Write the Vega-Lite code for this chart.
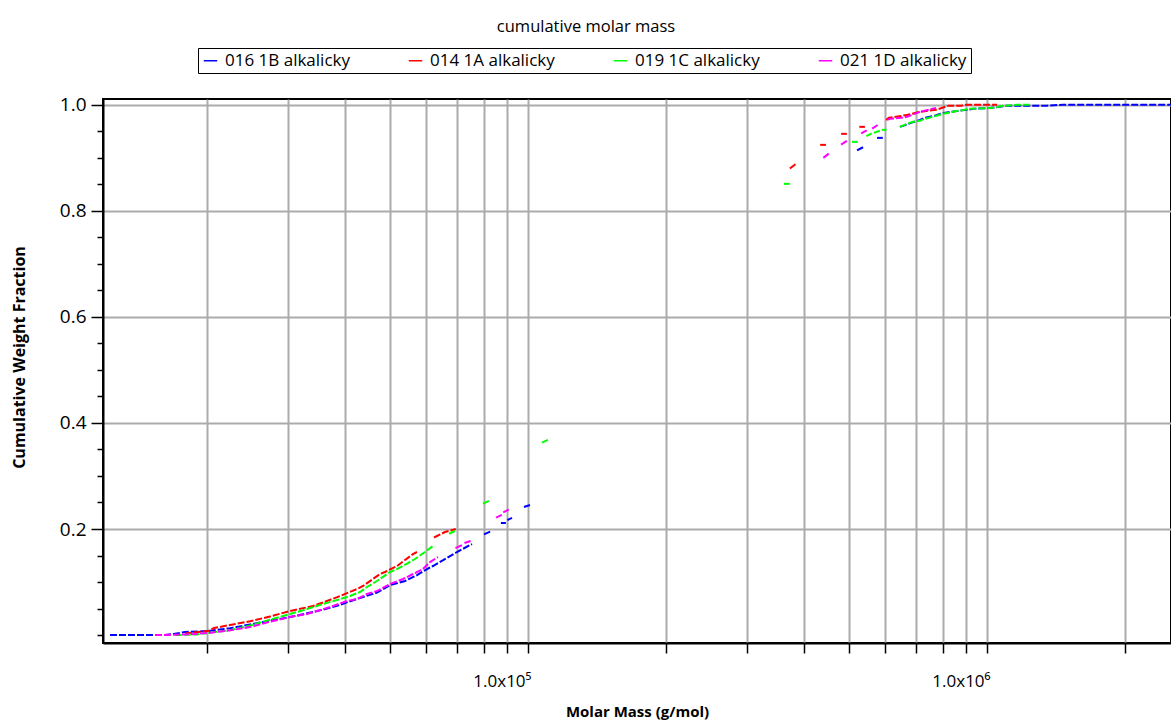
{
"$schema": "https://vega.github.io/schema/vega-lite/v6.json",
"width": 1068, "height": 544,
"autosize": {"type": "none"},
"padding": {"left": 103, "top": 99, "right": 0, "bottom": 84},
"background": "white",
"title": {"text": "cumulative molar mass", "fontSize": 16.5, "fontWeight": "normal", "font": "Open Sans", "color": "black", "anchor": "middle", "dx": -51, "frame": "group", "offset": 12},
"config": {"view": {"stroke": "black", "strokeWidth": 2}, "axis": {"labelColor": "black", "titleColor": "black", "tickColor": "black", "domainColor": "black", "domainWidth": 2, "gridColor": "#ababab", "gridWidth": 2, "gridOpacity": 1}},
"datasets": {
"curves": [
{"s":"016 1B alkalicky","g":"b1","m":12285,"f":0},{"s":"016 1B alkalicky","g":"b1","m":16190,"f":0},{"s":"016 1B alkalicky","g":"b1","m":16900,"f":0.002},{"s":"016 1B alkalicky","g":"b1","m":17890,"f":0.0057},{"s":"016 1B alkalicky","g":"b1","m":20090,"f":0.0075},{"s":"016 1B alkalicky","g":"b1","m":22430,"f":0.013},{"s":"016 1B alkalicky","g":"b1","m":24800,"f":0.02},{"s":"016 1B alkalicky","g":"b1","m":27410,"f":0.027},{"s":"016 1B alkalicky","g":"b1","m":30300,"f":0.034},{"s":"016 1B alkalicky","g":"b1","m":33000,"f":0.041},{"s":"016 1B alkalicky","g":"b1","m":35760,"f":0.048},{"s":"016 1B alkalicky","g":"b1","m":38360,"f":0.055},{"s":"016 1B alkalicky","g":"b1","m":40530,"f":0.0623},{"s":"016 1B alkalicky","g":"b1","m":43050,"f":0.07},{"s":"016 1B alkalicky","g":"b1","m":46880,"f":0.08},{"s":"016 1B alkalicky","g":"b1","m":50040,"f":0.0943},{"s":"016 1B alkalicky","g":"b1","m":53950,"f":0.1019},{"s":"016 1B alkalicky","g":"b1","m":57300,"f":0.113},{"s":"016 1B alkalicky","g":"b1","m":60260,"f":0.1245},{"s":"016 1B alkalicky","g":"b1","m":62090,"f":0.1302},{"s":"016 1B alkalicky","g":"b1","m":66600,"f":0.1453},{"s":"016 1B alkalicky","g":"b1","m":70030,"f":0.1566},{"s":"016 1B alkalicky","g":"b1","m":75510,"f":0.1717},
{"s":"016 1B alkalicky","g":"b2","m":80200,"f":0.19},{"s":"016 1B alkalicky","g":"b2","m":82700,"f":0.195},
{"s":"016 1B alkalicky","g":"b3","m":87300,"f":0.2113},{"s":"016 1B alkalicky","g":"b3","m":89500,"f":0.2113},
{"s":"016 1B alkalicky","g":"b4","m":90200,"f":0.217},{"s":"016 1B alkalicky","g":"b4","m":92300,"f":0.221},
{"s":"016 1B alkalicky","g":"b5","m":98000,"f":0.2415},{"s":"016 1B alkalicky","g":"b5","m":101000,"f":0.2453},
{"s":"016 1B alkalicky","g":"b6","m":521000,"f":0.914},{"s":"016 1B alkalicky","g":"b6","m":537000,"f":0.92},
{"s":"016 1B alkalicky","g":"b7","m":576000,"f":0.9377},{"s":"016 1B alkalicky","g":"b7","m":593000,"f":0.9377},
{"s":"016 1B alkalicky","g":"b8","m":646000,"f":0.9585},{"s":"016 1B alkalicky","g":"b8","m":656200,"f":0.9604},{"s":"016 1B alkalicky","g":"b8","m":683100,"f":0.966},{"s":"016 1B alkalicky","g":"b8","m":714500,"f":0.9717},{"s":"016 1B alkalicky","g":"b8","m":732700,"f":0.9755},{"s":"016 1B alkalicky","g":"b8","m":766500,"f":0.9792},{"s":"016 1B alkalicky","g":"b8","m":789900,"f":0.983},{"s":"016 1B alkalicky","g":"b8","m":834700,"f":0.9868},{"s":"016 1B alkalicky","g":"b8","m":904400,"f":0.9906},{"s":"016 1B alkalicky","g":"b8","m":932200,"f":0.9925},{"s":"016 1B alkalicky","g":"b8","m":1017700,"f":0.9943},{"s":"016 1B alkalicky","g":"b8","m":1105400,"f":0.9981},{"s":"016 1B alkalicky","g":"b8","m":1351300,"f":0.9985},{"s":"016 1B alkalicky","g":"b8","m":1464300,"f":1.0},{"s":"016 1B alkalicky","g":"b8","m":2517000,"f":1.0},
{"s":"014 1A alkalicky","g":"r1","m":17890,"f":0.003},{"s":"014 1A alkalicky","g":"r1","m":20090,"f":0.0075},{"s":"014 1A alkalicky","g":"r1","m":20700,"f":0.0132},{"s":"014 1A alkalicky","g":"r1","m":22430,"f":0.019},{"s":"014 1A alkalicky","g":"r1","m":24800,"f":0.026},{"s":"014 1A alkalicky","g":"r1","m":27410,"f":0.035},{"s":"014 1A alkalicky","g":"r1","m":30300,"f":0.0453},{"s":"014 1A alkalicky","g":"r1","m":34010,"f":0.0547},{"s":"014 1A alkalicky","g":"r1","m":36480,"f":0.0642},{"s":"014 1A alkalicky","g":"r1","m":38940,"f":0.0736},{"s":"014 1A alkalicky","g":"r1","m":42410,"f":0.0868},{"s":"014 1A alkalicky","g":"r1","m":43700,"f":0.0925},{"s":"014 1A alkalicky","g":"r1","m":47600,"f":0.1151},{"s":"014 1A alkalicky","g":"r1","m":48810,"f":0.1189},{"s":"014 1A alkalicky","g":"r1","m":51830,"f":0.1302},{"s":"014 1A alkalicky","g":"r1","m":56170,"f":0.1528},{"s":"014 1A alkalicky","g":"r1","m":57300,"f":0.1566},
{"s":"014 1A alkalicky","g":"r2","m":62400,"f":0.184},{"s":"014 1A alkalicky","g":"r2","m":65940,"f":0.1943},{"s":"014 1A alkalicky","g":"r2","m":69600,"f":0.2},
{"s":"014 1A alkalicky","g":"r5","m":372000,"f":0.88},{"s":"014 1A alkalicky","g":"r5","m":384000,"f":0.889},
{"s":"014 1A alkalicky","g":"r6","m":433000,"f":0.9245},{"s":"014 1A alkalicky","g":"r6","m":446000,"f":0.9245},
{"s":"014 1A alkalicky","g":"r7","m":481000,"f":0.9453},{"s":"014 1A alkalicky","g":"r7","m":495000,"f":0.9453},
{"s":"014 1A alkalicky","g":"r8","m":527000,"f":0.9585},{"s":"014 1A alkalicky","g":"r8","m":542000,"f":0.9585},
{"s":"014 1A alkalicky","g":"r9","m":603000,"f":0.9717},{"s":"014 1A alkalicky","g":"r9","m":611700,"f":0.9755},{"s":"014 1A alkalicky","g":"r9","m":633500,"f":0.9774},{"s":"014 1A alkalicky","g":"r9","m":652900,"f":0.9792},{"s":"014 1A alkalicky","g":"r9","m":669500,"f":0.981},{"s":"014 1A alkalicky","g":"r9","m":686600,"f":0.983},{"s":"014 1A alkalicky","g":"r9","m":714500,"f":0.9868},{"s":"014 1A alkalicky","g":"r9","m":743800,"f":0.9887},{"s":"014 1A alkalicky","g":"r9","m":774300,"f":0.9906},{"s":"014 1A alkalicky","g":"r9","m":822200,"f":0.9981},{"s":"014 1A alkalicky","g":"r9","m":873300,"f":0.9981},{"s":"014 1A alkalicky","g":"r9","m":904400,"f":1.0},{"s":"014 1A alkalicky","g":"r9","m":1017700,"f":1.0},{"s":"014 1A alkalicky","g":"r9","m":1051500,"f":1.0},
{"s":"019 1C alkalicky","g":"g1","m":17000,"f":0},{"s":"019 1C alkalicky","g":"g1","m":19000,"f":0.001},{"s":"019 1C alkalicky","g":"g1","m":20090,"f":0.004},{"s":"019 1C alkalicky","g":"g1","m":22430,"f":0.009},{"s":"019 1C alkalicky","g":"g1","m":24800,"f":0.018},{"s":"019 1C alkalicky","g":"g1","m":27410,"f":0.029},{"s":"019 1C alkalicky","g":"g1","m":30300,"f":0.0396},{"s":"019 1C alkalicky","g":"g1","m":33000,"f":0.049},{"s":"019 1C alkalicky","g":"g1","m":35760,"f":0.0585},{"s":"019 1C alkalicky","g":"g1","m":38360,"f":0.066},{"s":"019 1C alkalicky","g":"g1","m":40940,"f":0.0736},{"s":"019 1C alkalicky","g":"g1","m":43050,"f":0.0811},{"s":"019 1C alkalicky","g":"g1","m":44580,"f":0.0906},{"s":"019 1C alkalicky","g":"g1","m":46880,"f":0.1019},{"s":"019 1C alkalicky","g":"g1","m":50040,"f":0.1189},{"s":"019 1C alkalicky","g":"g1","m":51830,"f":0.1245},{"s":"019 1C alkalicky","g":"g1","m":54780,"f":0.1358},{"s":"019 1C alkalicky","g":"g1","m":56730,"f":0.1434},{"s":"019 1C alkalicky","g":"g1","m":59640,"f":0.1566},{"s":"019 1C alkalicky","g":"g1","m":62090,"f":0.1679},
{"s":"019 1C alkalicky","g":"g2","m":67300,"f":0.191},{"s":"019 1C alkalicky","g":"g2","m":69300,"f":0.1962},
{"s":"019 1C alkalicky","g":"g3","m":79800,"f":0.248},{"s":"019 1C alkalicky","g":"g3","m":82200,"f":0.253},
{"s":"019 1C alkalicky","g":"g4","m":107300,"f":0.363},{"s":"019 1C alkalicky","g":"g4","m":110500,"f":0.368},
{"s":"019 1C alkalicky","g":"g5","m":361000,"f":0.851},{"s":"019 1C alkalicky","g":"g5","m":372000,"f":0.851},
{"s":"019 1C alkalicky","g":"g6","m":508000,"f":0.9302},{"s":"019 1C alkalicky","g":"g6","m":523000,"f":0.9302},
{"s":"019 1C alkalicky","g":"g7","m":546000,"f":0.941},{"s":"019 1C alkalicky","g":"g7","m":561000,"f":0.946},
{"s":"019 1C alkalicky","g":"g8","m":567000,"f":0.9472},{"s":"019 1C alkalicky","g":"g8","m":584000,"f":0.951},
{"s":"019 1C alkalicky","g":"g9","m":590000,"f":0.9528},{"s":"019 1C alkalicky","g":"g9","m":604000,"f":0.9528},
{"s":"019 1C alkalicky","g":"g10","m":646000,"f":0.9585},{"s":"019 1C alkalicky","g":"g10","m":669500,"f":0.9642},{"s":"019 1C alkalicky","g":"g10","m":690000,"f":0.9679},{"s":"019 1C alkalicky","g":"g10","m":714500,"f":0.9698},{"s":"019 1C alkalicky","g":"g10","m":721800,"f":0.9717},{"s":"019 1C alkalicky","g":"g10","m":747500,"f":0.9755},{"s":"019 1C alkalicky","g":"g10","m":801800,"f":0.983},{"s":"019 1C alkalicky","g":"g10","m":843100,"f":0.9868},{"s":"019 1C alkalicky","g":"g10","m":864500,"f":0.9887},{"s":"019 1C alkalicky","g":"g10","m":918300,"f":0.9925},{"s":"019 1C alkalicky","g":"g10","m":1030600,"f":0.9943},{"s":"019 1C alkalicky","g":"g10","m":1083500,"f":0.9981},{"s":"019 1C alkalicky","g":"g10","m":1162600,"f":1.0},{"s":"019 1C alkalicky","g":"g10","m":1240900,"f":1.0},
{"s":"021 1D alkalicky","g":"m1","m":15395,"f":0},{"s":"021 1D alkalicky","g":"m1","m":17890,"f":0.001},{"s":"021 1D alkalicky","g":"m1","m":20090,"f":0.0038},{"s":"021 1D alkalicky","g":"m1","m":22430,"f":0.009},{"s":"021 1D alkalicky","g":"m1","m":24800,"f":0.015},{"s":"021 1D alkalicky","g":"m1","m":27410,"f":0.025},{"s":"021 1D alkalicky","g":"m1","m":30300,"f":0.034},{"s":"021 1D alkalicky","g":"m1","m":33000,"f":0.0396},{"s":"021 1D alkalicky","g":"m1","m":37030,"f":0.0528},{"s":"021 1D alkalicky","g":"m1","m":40340,"f":0.0642},{"s":"021 1D alkalicky","g":"m1","m":42410,"f":0.0679},{"s":"021 1D alkalicky","g":"m1","m":44580,"f":0.0774},{"s":"021 1D alkalicky","g":"m1","m":46880,"f":0.083},{"s":"021 1D alkalicky","g":"m1","m":50040,"f":0.0962},{"s":"021 1D alkalicky","g":"m1","m":53420,"f":0.1057},{"s":"021 1D alkalicky","g":"m1","m":56170,"f":0.1151},{"s":"021 1D alkalicky","g":"m1","m":59040,"f":0.1245},{"s":"021 1D alkalicky","g":"m1","m":61170,"f":0.1377},{"s":"021 1D alkalicky","g":"m1","m":63660,"f":0.1472},
{"s":"021 1D alkalicky","g":"m2","m":69500,"f":0.164},{"s":"021 1D alkalicky","g":"m2","m":72000,"f":0.17},
{"s":"021 1D alkalicky","g":"m3","m":72700,"f":0.1735},{"s":"021 1D alkalicky","g":"m3","m":75000,"f":0.1775},
{"s":"021 1D alkalicky","g":"m4","m":85200,"f":0.2215},{"s":"021 1D alkalicky","g":"m4","m":87700,"f":0.2265},
{"s":"021 1D alkalicky","g":"m5","m":88300,"f":0.2315},{"s":"021 1D alkalicky","g":"m5","m":90800,"f":0.2365},
{"s":"021 1D alkalicky","g":"m6","m":440000,"f":0.9},{"s":"021 1D alkalicky","g":"m6","m":452000,"f":0.908},
{"s":"021 1D alkalicky","g":"m7","m":481000,"f":0.925},{"s":"021 1D alkalicky","g":"m7","m":495000,"f":0.932},
{"s":"021 1D alkalicky","g":"m8","m":532000,"f":0.946},{"s":"021 1D alkalicky","g":"m8","m":547000,"f":0.952},
{"s":"021 1D alkalicky","g":"m9","m":562000,"f":0.955},{"s":"021 1D alkalicky","g":"m9","m":578000,"f":0.962},
{"s":"021 1D alkalicky","g":"m10","m":606000,"f":0.9717},{"s":"021 1D alkalicky","g":"m10","m":614800,"f":0.9736},{"s":"021 1D alkalicky","g":"m10","m":649600,"f":0.9755},{"s":"021 1D alkalicky","g":"m10","m":669500,"f":0.9774},{"s":"021 1D alkalicky","g":"m10","m":714500,"f":0.9868},{"s":"021 1D alkalicky","g":"m10","m":774300,"f":0.9943}
],
"minor": [{"f": 0.5}]
},
"layer": [
{
"data": {"name": "curves"},
"mark": {"type": "line", "strokeWidth": 2, "strokeDash": [7, 2], "clip": true},
"encoding": {
"x": {"field": "m", "type": "quantitative",
"scale": {"type": "log", "domain": [11860, 2517000], "nice": false, "zero": false},
"axis": {"title": "Molar Mass (g/mol)", "titleFont": "Open Sans", "titleFontSize": 15, "titleFontWeight": "bold", "titlePadding": 15,
"values": [20000,30000,40000,50000,60000,70000,80000,90000,100000,200000,300000,400000,500000,600000,700000,800000,900000,1000000,2000000],
"labelExpr": "datum.value == 100000 ? '1.0x10⁵' : (datum.value == 1000000 ? '1.0x10⁶' : '')",
"labelFont": "Open Sans", "labelFontSize": 17, "labelAlign": "right", "labelOffset": 3, "labelPadding": 20, "tickSize": 10, "tickWidth": 1.5, "grid": true}},
"y": {"field": "f", "type": "quantitative",
"scale": {"domain": [-0.015, 1.011], "nice": false, "zero": false},
"axis": {"title": "Cumulative Weight Fraction", "titleFont": "Open Sans", "titleFontSize": 16, "titleFontWeight": "bold", "titlePadding": 32, "titleY": 258,
"values": [0.2, 0.4, 0.6, 0.8, 1.0], "format": ".1f", "labelFont": "Open Sans", "labelFontSize": 19, "labelPadding": 5, "tickSize": 12, "tickWidth": 1.5, "grid": true}},
"color": {"field": "s", "type": "nominal",
"scale": {"domain": ["016 1B alkalicky", "014 1A alkalicky", "019 1C alkalicky", "021 1D alkalicky"], "range": ["#0000ff", "#ff0000", "#00ff00", "#ff00ff"]},
"legend": {"title": null, "orient": "none", "legendX": 95, "legendY": -51, "direction": "horizontal", "columns": 4,
"symbolType": "stroke", "symbolStrokeWidth": 1.6, "symbolSize": 180, "symbolDash": [1, 0],
"labelFont": "Open Sans", "labelFontSize": 17, "labelColor": "black", "columnPadding": 55, "labelOffset": 6,
"strokeColor": "black", "padding": 4, "fillColor": "white"}},
"detail": {"field": "g", "type": "nominal"}
}
},
{
"data": {"name": "minor"},
"mark": {"type": "point", "opacity": 0},
"encoding": {
"y": {"field": "f", "type": "quantitative",
"axis": {"orient": "left", "title": null, "labels": false, "grid": false, "domain": false, "tickSize": 6, "tickWidth": 1.5,
"values": [0, 0.05, 0.1, 0.15, 0.25, 0.3, 0.35, 0.45, 0.5, 0.55, 0.65, 0.7, 0.75, 0.85, 0.9, 0.95]}}
}
}
],
"resolve": {"axis": {"y": "independent"}}
}
